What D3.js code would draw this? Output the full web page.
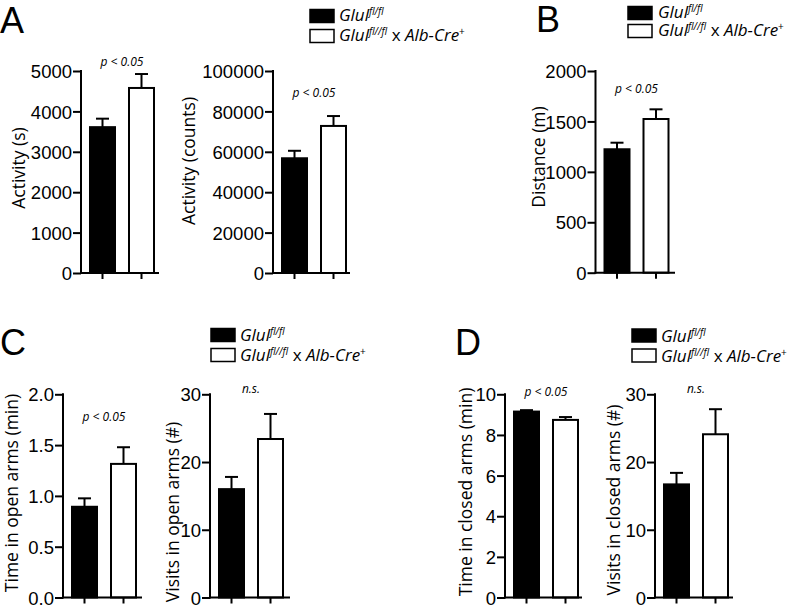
<!DOCTYPE html>
<html>
<head>
<meta charset="utf-8">
<script src="https://cdn.jsdelivr.net/npm/d3@7/dist/d3.min.js"></script>
<style>
  html, body { margin: 0; padding: 0; background: #fff; }
  svg { display: block; }
  .tick text { font-family: "Liberation Sans", Arial, sans-serif; font-size: 18.5px; fill: #000; }
  .ytitle { font-family: "Open Sans", sans-serif; font-size: 17.5px; fill: #000; }
  .ann { font-family: "Open Sans", sans-serif; font-size: 12px; font-style: italic; fill: #000; }
  .leg { font-family: "Open Sans", sans-serif; font-size: 17px; fill: #000; }
  .panel { font-family: "Liberation Sans", Arial, sans-serif; font-size: 36px; fill: #000; }
</style>
</head>
<body>
<svg id="chart" width="793" height="605"></svg>
<script>
// ---------- data ----------
const groups = ["Glul fl/fl", "Glul fl//fl x Alb-Cre+"];

const activitySeconds    = [3610, 4580];
const activitySecondsErr = [210, 345];
const activityCounts     = [56800, 72800];
const activityCountsErr  = [3700, 4900];
const distance           = [1224, 1524];
const distanceErr        = [65, 96];
const timeOpenArms       = [0.893, 1.315];
const timeOpenArmsErr    = [0.083, 0.164];
const visitsOpenArms     = [16.0, 23.4];
const visitsOpenArmsErr  = [1.8, 3.7];
const timeClosedArms     = [9.15, 8.74];
const timeClosedArmsErr  = [0.07, 0.14];
const visitsClosedArms   = [16.7, 24.1];
const visitsClosedArmsErr= [1.7, 3.7];

const ticksActivitySeconds = [0, 1000, 2000, 3000, 4000, 5000];
const ticksActivityCounts  = [0, 20000, 40000, 60000, 80000, 100000];
const ticksDistance        = [0, 500, 1000, 1500, 2000];
const ticksTimeOpen        = [0, 0.5, 1.0, 1.5, 2.0];
const ticksVisits          = [0, 10, 20, 30];
const ticksTimeClosed      = [0, 2, 4, 6, 8, 10];

const yTitles = ["Activity (s)", "Activity (counts)", "Distance (m)",
  "Time in open arms (min)", "Visits in open arms (#)",
  "Time in closed arms (min)", "Visits in closed arms (#)"];
const annotations = ["p < 0.05", "p < 0.05", "p < 0.05", "p < 0.05", "n.s.", "p < 0.05", "n.s."];
const panelLetters = ["A", "B", "C", "D"];

// ---------- layout ----------
const svg = d3.select("#chart");

const panels = [
  {vals: activitySeconds, errs: activitySecondsErr, ticks: ticksActivitySeconds, fmt: d3.format("d"),
   ax: 81, y0: 273, yTop: 71, xEnd: 159, title: yTitles[0], tx: 18, ty: 168, ann: annotations[0], annY: 66},
  {vals: activityCounts, errs: activityCountsErr, ticks: ticksActivityCounts, fmt: d3.format("d"),
   ax: 273, y0: 273, yTop: 71, xEnd: 350, title: yTitles[1], tx: 188, ty: 161, ann: annotations[1], annY: 97},
  {vals: distance, errs: distanceErr, ticks: ticksDistance, fmt: d3.format("d"),
   ax: 595.5, y0: 272.7, yTop: 71, xEnd: 675, title: yTitles[2], tx: 537.5, ty: 157, ann: annotations[2], annY: 93},
  {vals: timeOpenArms, errs: timeOpenArmsErr, ticks: ticksTimeOpen, fmt: d3.format(".1f"),
   ax: 63, y0: 597.5, yTop: 394.3, xEnd: 142, title: yTitles[3], tx: 10.5, ty: 493, ann: annotations[3], annY: 421},
  {vals: visitsOpenArms, errs: visitsOpenArmsErr, ticks: ticksVisits, fmt: d3.format("d"),
   ax: 210, y0: 597.5, yTop: 394.3, xEnd: 290, title: yTitles[4], tx: 172, ty: 512, ann: annotations[4], annY: 393},
  {vals: timeClosedArms, errs: timeClosedArmsErr, ticks: ticksTimeClosed, fmt: d3.format("d"),
   ax: 505, y0: 597.5, yTop: 394.3, xEnd: 582, title: yTitles[5], tx: 465, ty: 492, ann: annotations[5], annY: 396},
  {vals: visitsClosedArms, errs: visitsClosedArmsErr, ticks: ticksVisits, fmt: d3.format("d"),
   ax: 655, y0: 597.5, yTop: 394.3, xEnd: 733, title: yTitles[6], tx: 613, ty: 500, ann: annotations[6], annY: 393}
];

const fills = ["#000", "#fff"];

panels.forEach(p => {
  const g = svg.append("g");
  const y = d3.scaleLinear().domain([0, d3.max(p.ticks)]).range([p.y0, p.yTop]);
  const start = p.ax + 8;
  const x = d3.scaleBand().domain(groups).range([start, start + 66]).paddingInner(12 / 39).paddingOuter(0);
  const bw = x.bandwidth();

  // bars
  g.selectAll("rect.bar").data(groups).join("rect")
    .attr("class", "bar")
    .attr("x", d => x(d) + 1)
    .attr("width", bw - 2)
    .attr("y", (d, i) => y(p.vals[i]))
    .attr("height", (d, i) => p.y0 - y(p.vals[i]))
    .attr("fill", (d, i) => fills[i])
    .attr("stroke", "#000")
    .attr("stroke-width", 2);

  // error bars (upward only)
  groups.forEach((d, i) => {
    const cx = x(d) + bw / 2;
    const top = y(p.vals[i] + p.errs[i]);
    g.append("line").attr("x1", cx).attr("x2", cx)
      .attr("y1", y(p.vals[i])).attr("y2", top)
      .attr("stroke", "#000").attr("stroke-width", 2);
    g.append("line").attr("x1", cx - 6.5).attr("x2", cx + 6.5)
      .attr("y1", top).attr("y2", top)
      .attr("stroke", "#000").attr("stroke-width", 2);
  });

  // y axis
  const yAxis = g.append("g").attr("transform", `translate(${p.ax},0)`)
    .call(d3.axisLeft(y).tickValues(p.ticks).tickFormat(p.fmt).tickSize(8).tickSizeOuter(0).tickPadding(1));
  yAxis.select(".domain").attr("stroke-width", 2).attr("d", `M0,${p.y0 + 1}V${p.yTop - 1}`);
  yAxis.selectAll(".tick line").attr("stroke-width", 2);
  yAxis.selectAll(".tick text").attr("dy", "0.36em");

  // x axis
  const xAxis = g.append("g").attr("transform", `translate(0,${p.y0})`)
    .call(d3.axisBottom(x).tickFormat("").tickSize(6).tickSizeOuter(0));
  xAxis.select(".domain").attr("stroke-width", 2).attr("d", `M${p.ax - 1},0H${p.xEnd}`);
  xAxis.selectAll(".tick line").attr("stroke-width", 2);

  // y title
  g.append("text").attr("class", "ytitle")
    .attr("transform", `translate(${p.tx},${p.ty}) rotate(-90)`)
    .attr("text-anchor", "middle").attr("dominant-baseline", "central")
    .text(p.title);

  // annotation
  g.append("text").attr("class", "ann")
    .attr("x", start + 33).attr("y", p.annY)
    .attr("text-anchor", "middle").text(p.ann);
});

// panel letters
const letterPos = [[0, 33], [536, 32], [0, 355], [455, 355]];
panelLetters.forEach((L, i) => {
  svg.append("text").attr("class", "panel")
    .attr("x", letterPos[i][0]).attr("y", letterPos[i][1]).text(L);
});

// legends
const legends = [
  {x: 310, y: 9.5, tx: 339, b1: 21, b2: 41},
  {x: 628, y: 6.5, tx: 658, b1: 17.5, b2: 35.5},
  {x: 211, y: 328.5, tx: 240, b1: 341, b2: 361},
  {x: 632, y: 329, tx: 661, b1: 342, b2: 362}
];
legends.forEach(l => {
  const g = svg.append("g");
  const h = l.b2 - l.b1;
  g.append("rect").attr("x", l.x).attr("y", l.y).attr("width", 24).attr("height", 13)
    .attr("fill", "#000").attr("stroke", "#000").attr("stroke-width", 1.5);
  g.append("rect").attr("x", l.x).attr("y", l.y + h).attr("width", 24).attr("height", 13)
    .attr("fill", "#fff").attr("stroke", "#000").attr("stroke-width", 1.5);

  const t1 = g.append("text").attr("class", "leg").attr("x", l.tx).attr("y", l.b1);
  t1.append("tspan").attr("font-style", "italic").text("Glul");
  t1.append("tspan").attr("font-style", "italic").attr("font-size", "10px").attr("dy", -6).text("fl/fl");

  const t2 = g.append("text").attr("class", "leg").attr("x", l.tx).attr("y", l.b2);
  t2.append("tspan").attr("font-style", "italic").text("Glul");
  t2.append("tspan").attr("font-style", "italic").attr("font-size", "10px").attr("dy", -6).text("fl//fl");
  t2.append("tspan").attr("dy", 6).text(" x ");
  t2.append("tspan").attr("font-style", "italic").text("Alb-Cre");
  t2.append("tspan").attr("font-size", "10px").attr("dy", -6).text("+");
});
</script>
</body>
</html>
